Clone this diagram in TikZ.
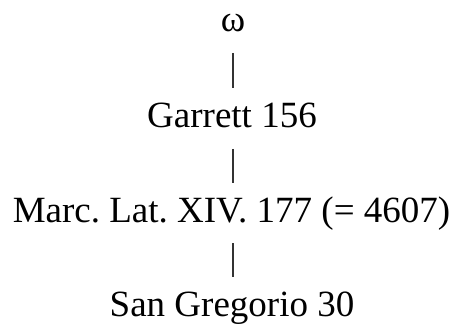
\documentclass[tikz,border=0pt]{standalone}
\usepackage{fontspec}
\setmainfont{Liberation Serif}
\frenchspacing
\tikzset{
  lbl/.style={anchor=base, inner sep=0pt, font=\fontsize{37}{42}\selectfont},
  bar/.style={draw=black!80, line width=1.6pt}
}
\begin{document}
\frenchspacing
\begin{tikzpicture}[x=1pt,y=1pt]
\useasboundingbox (0,0) rectangle (455,327);
\node[lbl] (w) at (233,295) {ω};
\node[lbl] (g) at (232,199) {Garrett 156};
\node[lbl] (m) at (231.5,105) {Marc. Lat. XIV. 177 (= 4607)};
\node[lbl] (s) at (232,11) {San Gregorio 30};
\draw[bar] ([yshift=-21pt]w.base -| 233,0) -- ([yshift=40pt]g.base -| 233,0);
\draw[bar] ([yshift=-21pt]g.base -| 233,0) -- ([yshift=39pt]m.base -| 233,0);
\draw[bar] ([yshift=-21pt]m.base -| 233,0) -- ([yshift=39pt]s.base -| 233,0);
\end{tikzpicture}
\end{document}
